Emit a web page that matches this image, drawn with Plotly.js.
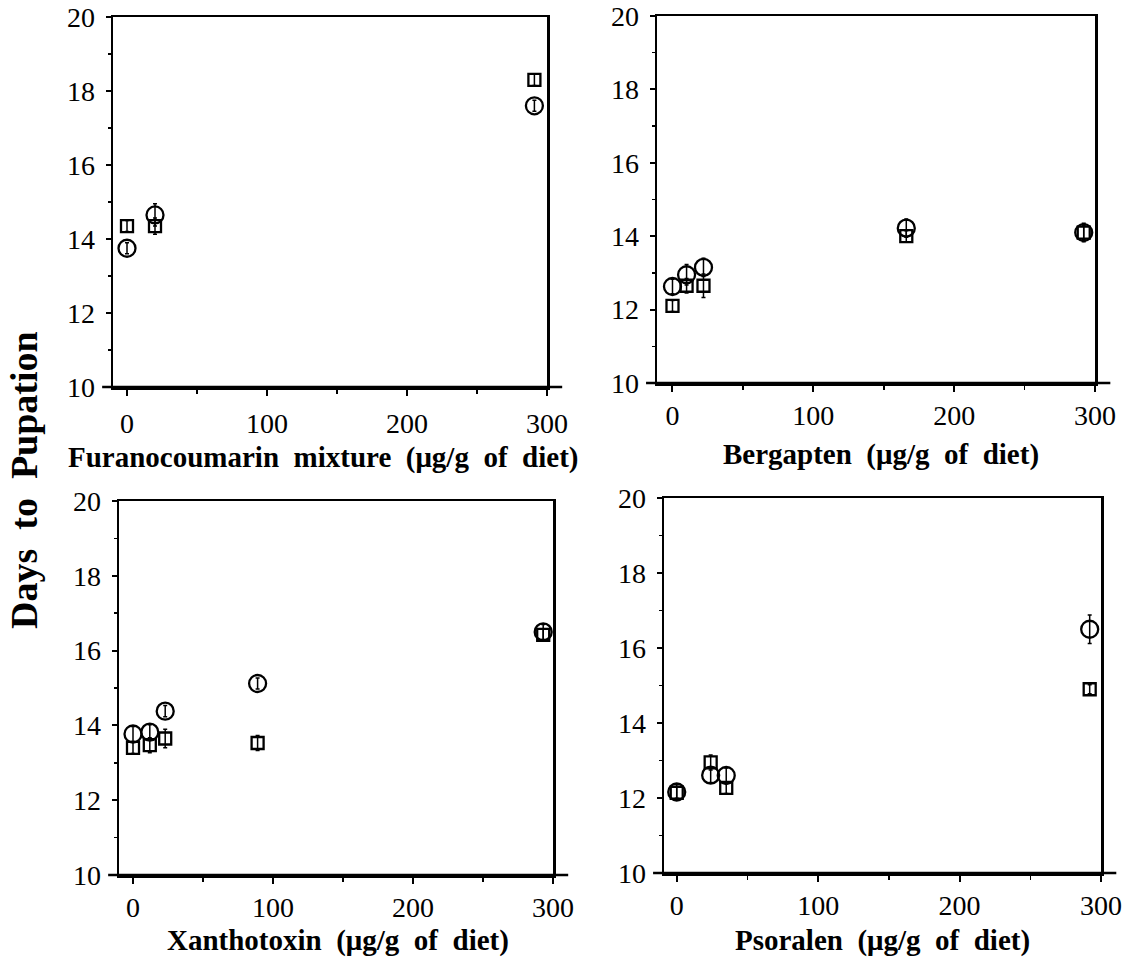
<!DOCTYPE html>
<html><head><meta charset="utf-8">
<script src="https://cdn.plot.ly/plotly-3.0.1.min.js"></script>
<style>body{margin:0;background:#fff}#chart{width:1131px;height:957px}</style>
</head><body><div id="chart"></div>
<script>
// Panel A: Furanocoumarin mixture
const furanoDose = [0, 20, 291];
const furanoCircle = [13.75, 14.65, 17.6];
const furanoCircleErr = [0.15, 0.3, 0.15];
const furanoSquare = [14.35, 14.35, 18.3];
const furanoSquareErr = [0.15, 0.22, 0.15];
// Panel B: Bergapten
const bergDose = [0, 10, 22, 166, 292];
const bergCircle = [12.63, 12.95, 13.15, 14.22, 14.1];
const bergCircleErr = [0.2, 0.28, 0.25, 0.25, 0.2];
const bergSquare = [12.1, 12.65, 12.65, 14.0, 14.1];
const bergSquareErr = [0.15, 0.2, 0.32, 0.15, 0.25];
// Panel C: Xanthotoxin
const xanDose = [0, 12, 23, 89, 293];
const xanCircle = [13.77, 13.82, 14.38, 15.12, 16.5];
const xanCircleErr = [0.2, 0.2, 0.15, 0.15, 0.2];
const xanSquare = [13.4, 13.47, 13.65, 13.53, 16.42];
const xanSquareErr = [0.15, 0.2, 0.25, 0.2, 0.15];
// Panel D: Psoralen
const psoDose = [0, 24, 35, 292];
const psoCircle = [12.16, 12.61, 12.6, 16.5];
const psoCircleErr = [0.2, 0.2, 0.2, 0.38];
const psoSquare = [12.14, 12.95, 12.27, 14.9];
const psoSquareErr = [0.15, 0.2, 0.15, 0.12];

const xTickVals = [0, 100, 200, 300];
const yTickVals = [10, 12, 14, 16, 18, 20];
const sp = '\u00a0\u00a0';
const xTitles = ['Furanocoumarin' + sp + 'mixture' + sp + '(\u03bcg/g' + sp + 'of' + sp + 'diet)',
                 'Bergapten' + sp + '(\u03bcg/g' + sp + 'of' + sp + 'diet)',
                 'Xanthotoxin' + sp + '(\u03bcg/g' + sp + 'of' + sp + 'diet)',
                 'Psoralen' + sp + '(\u03bcg/g' + sp + 'of' + sp + 'diet)'];
const yTitle = 'Days' + sp + 'to' + sp + 'Pupation';

const W = 1131, H = 957;
const panels = [
  {dose: furanoDose, c: furanoCircle, ce: furanoCircleErr, s: furanoSquare, se: furanoSquareErr,
   px: [113, 547], py: [17, 387], xr: [-10, 300], tx: 323, ty: 457, so: 4},
  {dose: bergDose, c: bergCircle, ce: bergCircleErr, s: bergSquare, se: bergSquareErr,
   px: [657, 1095], py: [16, 383], xr: [-11, 300], tx: 881, ty: 454, so: 0},
  {dose: xanDose, c: xanCircle, ce: xanCircleErr, s: xanSquare, se: xanSquareErr,
   px: [119, 553], py: [501, 875], xr: [-10, 300], tx: 338, ty: 940, so: 0},
  {dose: psoDose, c: psoCircle, ce: psoCircleErr, s: psoSquare, se: psoSquareErr,
   px: [664, 1101], py: [498, 873], xr: [-9, 300], tx: 882, ty: 940, so: 0}
];

const font = 'Liberation Serif, Times New Roman, serif';
const data = [];
const layout = {
  width: W, height: H, margin: {l: 0, r: 0, t: 0, b: 0},
  paper_bgcolor: '#fff', plot_bgcolor: '#fff', showlegend: false,
  annotations: [], shapes: []
};

panels.forEach((p, i) => {
  const n = i === 0 ? '' : String(i + 1);
  const xa = 'x' + n, ya = 'y' + n;
  const axStyle = {
    showline: true, linewidth: 2.5, linecolor: '#000', mirror: true,
    ticks: 'outside', tickwidth: 2, tickcolor: '#000',
    showgrid: false, zeroline: false, ticklabeloverflow: 'allow',
    tickfont: {family: font, size: 28, color: '#000'}
  };
  layout['xaxis' + n] = Object.assign({}, axStyle, {
    domain: [p.px[0] / W, p.px[1] / W], range: p.xr, anchor: ya,
    tickvals: xTickVals, ticklen: 6, ticklabelstandoff: p.so,
    minor: {dtick: 50, tick0: 0, ticks: 'outside', ticklen: 4, tickwidth: 1.5, tickcolor: '#000'}
  });
  layout['yaxis' + n] = Object.assign({}, axStyle, {
    domain: [1 - p.py[1] / H, 1 - p.py[0] / H], range: [10, 20], anchor: xa,
    tickvals: yTickVals, ticklen: 5, ticklabelstandoff: 5,
    minor: {dtick: 1, tick0: 10, ticks: 'outside', ticklen: 3, tickwidth: 1.5, tickcolor: '#000'}
  });
  const err = arr => ({type: 'data', array: arr, visible: true, color: '#000', thickness: 1.5, width: 2});
  data.push({
    x: p.dose, y: p.c, xaxis: xa, yaxis: ya, type: 'scatter', mode: 'markers',
    marker: {symbol: 'circle-open', size: 17, color: '#000', line: {width: 2.3, color: '#000'}},
    error_y: err(p.ce), hoverinfo: 'x+y'
  });
  data.push({
    x: p.dose, y: p.s, xaxis: xa, yaxis: ya, type: 'scatter', mode: 'markers',
    marker: {symbol: 'square-open', size: 12, color: '#000', line: {width: 2.3, color: '#000'}},
    error_y: err(p.se), hoverinfo: 'x+y'
  });
  // bottom axis line extends a little past the frame
  layout.shapes.push({type: 'line', xref: xa + ' domain', yref: ya + ' domain',
    x0: -0.025, x1: 1.035, y0: 0, y1: 0, line: {color: '#000', width: 2.5}});
  layout.annotations.push({
    text: '<b>' + xTitles[i] + '</b>', xref: 'paper', yref: 'paper',
    x: p.tx / W, y: 1 - p.ty / H, xanchor: 'center', yanchor: 'middle', showarrow: false,
    font: {family: font, size: 29, color: '#000'}
  });
});

layout.annotations.push({
  text: '<b>' + yTitle + '</b>', xref: 'paper', yref: 'paper',
  x: 24 / W, y: 1 - 480 / H, xanchor: 'center', yanchor: 'middle', showarrow: false,
  textangle: -90, font: {family: font, size: 38, color: '#000'}
});

Plotly.newPlot('chart', data, layout, {displayModeBar: false, staticPlot: true});
</script>
</body></html>
